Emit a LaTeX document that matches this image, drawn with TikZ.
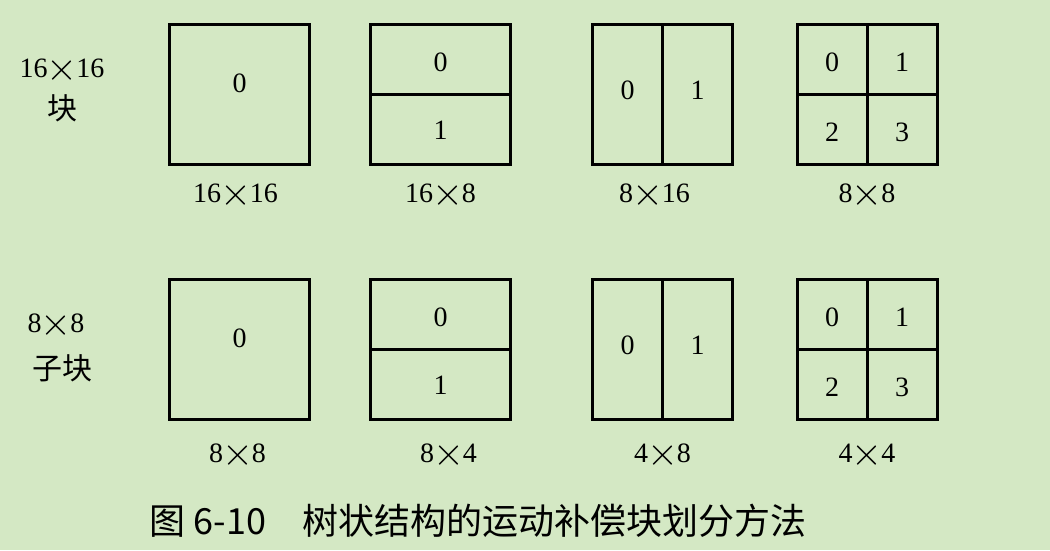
\documentclass[tikz,border=0pt]{standalone}
\usepackage{fontspec}
\usepackage{graphicx}
\usetikzlibrary{calc}
\setmainfont{Liberation Serif}
\newfontfamily\cjk{Noto Sans CJK SC}
\definecolor{bggreen}{RGB}{212,232,196}
\newcommand{\by}{\kern-1pt\smash{$\vcenter{\hbox{\scalebox{1.6}{$\times$}}}$}\kern-1pt}

\begin{document}
\begin{tikzpicture}[x=1pt,y=-1pt,
	blk/.style={draw, line width=3pt, minimum width=140pt, minimum height=140pt, inner sep=0pt, outer sep=0pt},
	num/.style={font=\fontsize{28}{28}\selectfont, inner sep=0pt},
	size/.style={font=\fontsize{28}{28}\selectfont, inner sep=0pt, anchor=base},
	split/.style={line width=3pt}]
	\fill[bggreen] (0,0) rectangle (1050,550);
	\useasboundingbox (0,0) rectangle (1050,550);
	% 16x16 macroblock
	\node[blk] (a1) at (239.5,94) {};
	\node[blk] (a2) at (440.5,94) {};
	\node[blk] (a3) at (662.5,94) {};
	\node[blk] (a4) at (867,94) {};
	\draw[split] (a2.west) -- (a2.east);
	\draw[split] (a3.north) -- (a3.south);
	\draw[split] (a4.north) -- (a4.south);
	\draw[split] (a4.west) -- (a4.east);
	\node[num] (a1n0) at ($(a1.center)+(0,-11)$) {0};
	\node[num] (a2n0) at ($(a2.north)!.5!(a2.center)+(0,3)$) {0};
	\node[num] (a2n1) at ($(a2.south)!.5!(a2.center)+(0,1)$) {1};
	\node[num] (a3n0) at ($(a3.west)!.5!(a3.center)+(0,-4)$) {0};
	\node[num] (a3n1) at ($(a3.east)!.5!(a3.center)+(0,-4)$) {1};
	\node[num] (a4n0) at ($(a4.north west)!.5!(a4.center)+(0,3)$) {0};
	\node[num] (a4n1) at ($(a4.north east)!.5!(a4.center)+(0,3)$) {1};
	\node[num] (a4n2) at ($(a4.south west)!.5!(a4.center)+(0,3)$) {2};
	\node[num] (a4n3) at ($(a4.south east)!.5!(a4.center)+(0,3)$) {3};
	\node[size] (a1s) at ($(a1.south)+(-4,38)$) {16\by16};
	\node[size] (a2s) at ($(a2.south)+(0,38)$) {16\by8};
	\node[size] (a3s) at ($(a3.south)+(-8,38)$) {8\by16};
	\node[size] (a4s) at ($(a4.south)+(0,38)$) {8\by8};
	\node[size] (rowa) at (62,77) {16\by16};
	\node[num, font=\fontsize{30}{30}\selectfont] (rowak) at (62,108) {\cjk 块};
	% 8x8 sub-block
	\node[blk] (b1) at (239.5,349) {};
	\node[blk] (b2) at (440.5,349) {};
	\node[blk] (b3) at (662.5,349) {};
	\node[blk] (b4) at (867,349) {};
	\draw[split] (b2.west) -- (b2.east);
	\draw[split] (b3.north) -- (b3.south);
	\draw[split] (b4.north) -- (b4.south);
	\draw[split] (b4.west) -- (b4.east);
	\node[num] (b1n0) at ($(b1.center)+(0,-11)$) {0};
	\node[num] (b2n0) at ($(b2.north)!.5!(b2.center)+(0,3)$) {0};
	\node[num] (b2n1) at ($(b2.south)!.5!(b2.center)+(0,1)$) {1};
	\node[num] (b3n0) at ($(b3.west)!.5!(b3.center)+(0,-4)$) {0};
	\node[num] (b3n1) at ($(b3.east)!.5!(b3.center)+(0,-4)$) {1};
	\node[num] (b4n0) at ($(b4.north west)!.5!(b4.center)+(0,3)$) {0};
	\node[num] (b4n1) at ($(b4.north east)!.5!(b4.center)+(0,3)$) {1};
	\node[num] (b4n2) at ($(b4.south west)!.5!(b4.center)+(0,3)$) {2};
	\node[num] (b4n3) at ($(b4.south east)!.5!(b4.center)+(0,3)$) {3};
	\node[size] (b1s) at ($(b1.south)+(-2,43)$) {8\by8};
	\node[size] (b2s) at ($(b2.south)+(8,43)$) {8\by4};
	\node[size] (b3s) at ($(b3.south)+(0,43)$) {4\by8};
	\node[size] (b4s) at ($(b4.south)+(0,43)$) {4\by4};
	\node[size] (rowb) at (56,332) {8\by8};
	\node[num, font=\fontsize{30}{30}\selectfont] (rowbk) at (62,368) {\cjk 子块};
	\node (cap) at (478,521) {\cjk\fontsize{36}{36}\selectfont 图 6-10\quad 树状结构的运动补偿块划分方法};
\end{tikzpicture}
\end{document}
